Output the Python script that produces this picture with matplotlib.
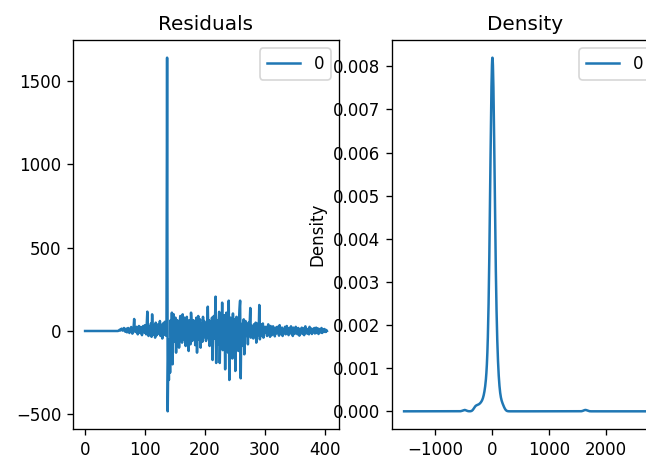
import numpy as np
import matplotlib as mpl
mpl.use("Agg")
import matplotlib.pyplot as plt
from matplotlib.ticker import MultipleLocator

# residuals, split by region
# flat start (idx 0-55)
resid_flat = [0, 0, 0, 0, 0, 0, 0, 0, 0, 0, 0, 0, 0, 0, 0, 0, 0, 0, 0, 0,
              0, 0, 0, 0, 0, 0, 0, 0, 0, 0, 0, 0, 0, 0, 0, 0, 0, 0, 0, 0,
              0, 0, 0, 0, 0, 0, 0, 0, 0, 0, 0, 0, 0, 0, 0, 0]
# small wiggles before the spike (idx 56-136)
resid_early = [2, 5, 8, 3, 10, 14, 6, 2, 12, 18, 9, -4, 5, 14,
               -8, 6, 18, 10, -12, 3, 15, 24, 8, -16, 10, 20,
               72, 12, -6, 18, 25, 5, -20, 15, 30, 10, -12, 24, 6, -25,
               12, 30, 18, -10, 35, 20, -20, 40, 116, 10, -30, 28, 16, -14, 45, -35,
               100, 15, -22, 35, 22, -40, 50, 18, -25, 30, 40, -15, 25, 60, -30,
               20, 35, -45, 45, 12, -20, 55, 24, -28, 35]
# the spike (idx 137-138)
resid_spike = [1640, -482]
# big swings (idx 139-300)
resid_mid = [-150, -294, -50, -250, 65, -100, 110, -200, 25, 100, -65, 45, 80, -130, 15, 65, -45, 50, -100, 40, 90, -30,
             45, -70, 100, 30, -50, 80, 20, -90, 60, 85, -45, 25, -120, 65, 15, -80, 110, 45, -60, 20,
             65, -30, 50, -85, 40, 80, -130, 25, 90, -50, 15, 70, -100, 45, 20, -65, 85, -40, 60, -15,
             45, -60, 25, 5, 146, -45, 65, -90, 20, 50, -30, 80, -174, 40, 90, -45, 60, 206, -192, 25,
             65, -80, 45, 115, -192, 20, 85, -60, 170, -115, 40, -45, 95, -230, 60, 110, -70, 20, -130, 182,
             -294, 45, 80, -90, 25, -165, 105, -45, 15, 70, -240, 40, 85, -60, 20, -120, 50, 130, 182, -284,
             25, -90, 45, -45, 70, -140, 20, 60, -30, 40, 15, -80, 50, -25, 45, 138, -40, 30, -15, 20,
             -45, 40, 15, -30, 50, -70, 30, 5, 45, -25, 156, -50, 20, 40, -30, 15, 45, -40, 25, 5]
# tail (idx 301-404)
resid_tail = [-12, 25, 6, -30, 18, 40, -18, 12, -35, 30, 6, -25, 18, 28, -12, 9, -32, 20, 3, -15,
              25, -6, 15, -28, 35, 6, -18, 12, 20, -30, 9, 3, -12, 25, -20, 15, 30, -9, 6, -25,
              18, 9, -15, 28, -6, 12, -30, 20, 3, -18, 15, 25, -12, 6, -20, 18, 9, -28, 12, 3,
              -9, 20, -18, 15, 6, -25, 18, 28, -12, 9, -15, 12, 3, -20, 25, 6, -9, 15, -18, 9,
              12, -6, 18, -15, 6, 20, -12, 3, 15, -18, 9, 12, -9, 6, 18, -12, 3, 9, -6, 12,
              3, -6, 6, 0]

resid = np.array(resid_flat + resid_early + resid_spike + resid_mid + resid_tail, dtype=float)
idx = np.arange(len(resid))


# gaussian kde like pandas' plot(kind='kde') (scott bandwidth)
def kde(data, npts=1000):
    n = len(data)
    rng = data.max() - data.min()
    ind = np.linspace(data.min() - 0.5 * rng, data.max() + 0.5 * rng, npts)
    bw = data.std(ddof=1) * n ** (-1.0 / 5)
    z = (ind[:, None] - data[None, :]) / bw
    dens = np.exp(-0.5 * z ** 2).sum(axis=1) / (n * bw * np.sqrt(2 * np.pi))
    return ind, dens


ind, dens = kde(resid)

fig = plt.figure(figsize=(646 / 120, 461 / 120), dpi=120)
W, H = 646.0, 461.0
ax1 = fig.add_axes([73 / W, 32 / H, 266 / W, 389 / H])
ax2 = fig.add_axes([392 / W, 32 / H, 266 / W, 389 / H])

ax1.plot(idx, resid, label="0")
ax1.set_title("Residuals")
ax1.legend(loc="upper right")

ax2.plot(ind, dens, label="0")
ax2.set_title("Density")
ax2.set_ylabel("Density")
ax2.yaxis.set_major_locator(MultipleLocator(0.001))
ax2.legend(loc="upper right")

fig.savefig("out.png", dpi=120)
